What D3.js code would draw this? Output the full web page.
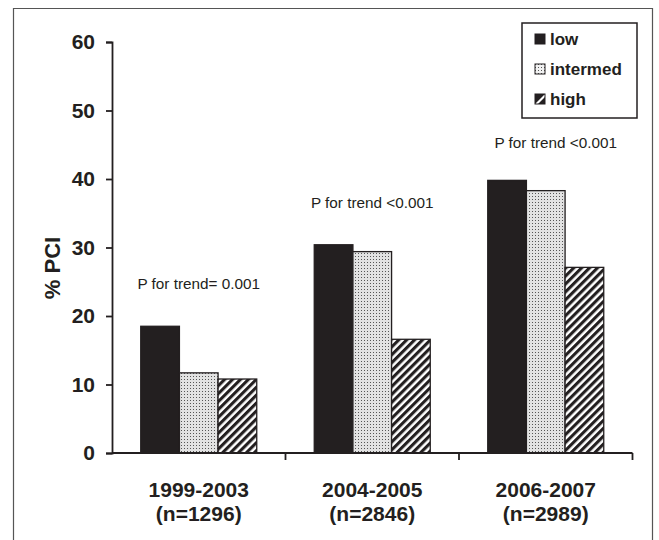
<!DOCTYPE html>
<html>
<head>
<meta charset="utf-8">
<script src="https://cdn.jsdelivr.net/npm/d3@7"></script>
<style>
  html, body { margin: 0; padding: 0; background: #fff; }
  svg { display: block; }
</style>
</head>
<body>
<svg id="chart" width="659" height="540" font-family="'Liberation Sans', Arial, sans-serif"></svg>
<script>
// Periods and their sample sizes
const periods = ["1999-2003", "2004-2005", "2006-2007"];
const sampleSizes = ["(n=1296)", "(n=2846)", "(n=2989)"];
// Risk groups
const groups = ["low", "intermed", "high"];
// % PCI per risk group, one value per period
const lowValues = [18.5, 30.4, 39.8];
const intermedValues = [11.7, 29.4, 38.3];
const highValues = [10.8, 16.6, 27.1];
// Trend test annotations
const trendLabels = ["P for trend= 0.001", "P for trend <0.001", "P for trend <0.001"];
const yTicks = [0, 10, 20, 30, 40, 50, 60];

const ink = "#231f20";
const svg = d3.select("#chart");

// Patterns
const defs = svg.append("defs");
const dots = defs.append("pattern").attr("id", "dots")
  .attr("patternUnits", "userSpaceOnUse").attr("width", 3).attr("height", 3);
dots.append("rect").attr("width", 3).attr("height", 3).attr("fill", "#e2e2e2");
dots.append("rect").attr("x", 1).attr("y", 1).attr("width", 1).attr("height", 1).attr("fill", "#555");

const stripes = defs.append("pattern").attr("id", "stripes")
  .attr("patternUnits", "userSpaceOnUse").attr("width", 5.6).attr("height", 10)
  .attr("patternTransform", "rotate(45)");
stripes.append("rect").attr("width", 5.6).attr("height", 10).attr("fill", "#fff");
stripes.append("rect").attr("width", 3.1).attr("height", 10).attr("fill", ink);

const legendGrid = defs.append("pattern").attr("id", "legendGrid")
  .attr("patternUnits", "userSpaceOnUse").attr("width", 3).attr("height", 3);
legendGrid.append("rect").attr("width", 3).attr("height", 3).attr("fill", "#f2f2f2");
legendGrid.append("rect").attr("width", 1).attr("height", 1).attr("fill", "#555");

const fills = { low: ink, intermed: "url(#dots)", high: "url(#stripes)" };

// Outer frame (open at the bottom)
svg.append("path")
  .attr("d", "M13.5,540 V8.5 H652.5 V540")
  .attr("fill", "none").attr("stroke", "#555").attr("stroke-width", 1.2);

// Plot area
const x0 = 112, x1 = 632.5, yBottom = 453, yTop = 42;
const x = d3.scaleBand().domain(periods).range([x0, x1]).paddingInner(0).paddingOuter(0);
const y = d3.scaleLinear().domain([0, 60]).range([yBottom, yTop]);
const innerWidth = 116;
const xg = d3.scaleBand().domain(groups).range([0, innerWidth]).padding(0);
const groupOffset = (x.bandwidth() - innerWidth) / 2;

const data = periods.map((p, i) => ({
  period: p,
  values: [
    { group: "low", value: lowValues[i] },
    { group: "intermed", value: intermedValues[i] },
    { group: "high", value: highValues[i] }
  ]
}));

// Bars
const gBars = svg.append("g");
data.forEach(d => {
  gBars.selectAll(null).data(d.values).enter().append("rect")
    .attr("x", v => x(d.period) + groupOffset + xg(v.group))
    .attr("y", v => y(v.value))
    .attr("width", xg.bandwidth())
    .attr("height", v => yBottom - y(v.value))
    .attr("fill", v => fills[v.group])
    .attr("stroke", ink).attr("stroke-width", 1.3);
});

// Y axis
const yAxis = svg.append("g").attr("transform", `translate(${x0},0)`)
  .call(d3.axisLeft(y).tickValues(yTicks).tickSize(6).tickPadding(11).tickFormat(d3.format("d")));
yAxis.attr("font-family", null).attr("font-size", null);
yAxis.select(".domain").attr("stroke", ink).attr("stroke-width", 1.8);
yAxis.selectAll(".tick line").attr("stroke", ink).attr("stroke-width", 1.8);
yAxis.selectAll(".tick text").attr("fill", ink)
  .attr("font-size", 21).attr("font-weight", "bold");

// X axis with ticks at the category boundaries
const xAxis = svg.append("g").attr("transform", `translate(0,${yBottom})`);
xAxis.append("line").attr("x1", x0).attr("x2", x1).attr("stroke", ink).attr("stroke-width", 1.8);
const boundaries = periods.map(p => x(p) + x.bandwidth());
xAxis.selectAll(".b").data(boundaries).enter().append("line")
  .attr("x1", d => d).attr("x2", d => d).attr("y1", 0).attr("y2", 7)
  .attr("stroke", ink).attr("stroke-width", 1.8);

// Category labels
periods.forEach((p, i) => {
  const cx = x(p) + x.bandwidth() / 2;
  svg.append("text").attr("x", cx).attr("y", 497).attr("text-anchor", "middle")
    .attr("fill", ink).attr("font-size", 21).attr("font-weight", "bold").text(p);
  svg.append("text").attr("x", cx).attr("y", 521).attr("text-anchor", "middle")
    .attr("fill", ink).attr("font-size", 21).attr("font-weight", "bold").text(sampleSizes[i]);
});

// Y axis title
svg.append("text")
  .attr("transform", "translate(60,268) rotate(-90)")
  .attr("text-anchor", "middle").attr("fill", ink)
  .attr("font-size", 22).attr("font-weight", "bold").text("% PCI");

// Trend annotations above each period
periods.forEach((p, i) => {
  const tallest = Math.max(lowValues[i], intermedValues[i], highValues[i]);
  svg.append("text")
    .attr("x", x(p) + groupOffset + innerWidth / 2 + [0, 0, 10][i])
    .attr("y", y(tallest) - [37, 36.5, 32][i])
    .attr("text-anchor", "middle").attr("fill", ink)
    .attr("font-size", 15.3).text(trendLabels[i]);
});

// Legend
const legend = svg.append("g");
legend.append("rect").attr("x", 522).attr("y", 23).attr("width", 115).attr("height", 95)
  .attr("fill", "#fff").attr("stroke", ink).attr("stroke-width", 1.5);
const legendFill = { low: ink, intermed: "url(#legendGrid)", high: "#fff" };
groups.forEach((g, i) => {
  const base = 45 + i * 30;
  const sw = legend.append("g").attr("transform", `translate(535,${base - 11})`);
  sw.append("rect").attr("width", 10).attr("height", 10)
    .attr("fill", legendFill[g]).attr("stroke", ink).attr("stroke-width", 1);
  if (g === "high") {
    sw.append("path").attr("d", "M0,0 H10 L0,10 Z").attr("fill", ink);
    sw.append("path").attr("d", "M10,3 V10 H3 Z").attr("fill", ink);
  }
  legend.append("text").attr("x", 550).attr("y", base).attr("fill", ink)
    .attr("font-size", 17).attr("font-weight", "bold").text(g);
});
</script>
</body>
</html>
